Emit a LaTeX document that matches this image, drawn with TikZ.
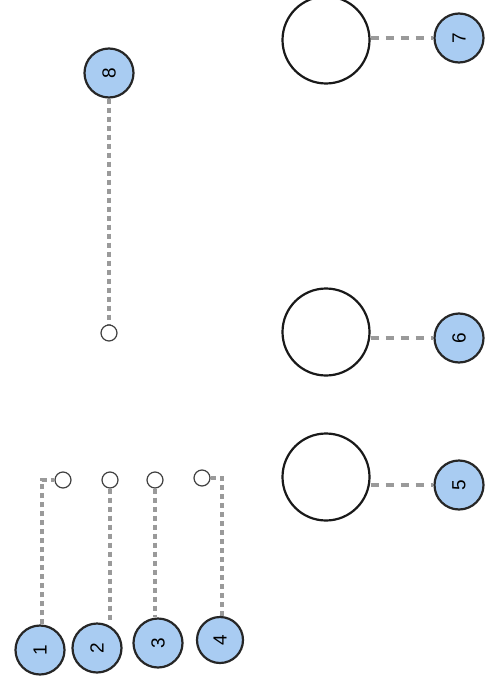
\documentclass[tikz,border=0pt]{standalone}
\usepackage{fontspec}
\setmainfont{Liberation Sans}
\usetikzlibrary{backgrounds}
\definecolor{badgefill}{HTML}{A9CCF2}
\definecolor{conn}{HTML}{9A9A9A}
\newcommand{\rt}[1]{\rotatebox{90}{#1}}
\begin{document}
\begin{tikzpicture}[x=1pt,y=-1pt,
  badge/.style={circle,draw=black!85,line width=2.2pt,fill=badgefill,minimum size=49pt,inner sep=0pt,font=\fontsize{19}{19}\selectfont},
  smallc/.style={circle,draw=black!75,line width=1.2pt,fill=white,minimum size=16pt,inner sep=0pt},
  bigc/.style={circle,draw=black!90,line width=2.2pt,fill=white,minimum size=87pt,inner sep=0pt},
  vconn/.style={draw=conn,line width=4pt,dash pattern=on 5pt off 4pt},
  hconn/.style={draw=conn,line width=4pt,dash pattern=on 8pt off 7pt}]
\useasboundingbox (0,0) rectangle (498,687);
% badges
\node[badge] (b1) at (40,650) {\rt{1}};
\node[badge] (b2) at (97,648) {\rt{2}};
\node[badge] (b3) at (158,643) {\rt{3}};
\node[badge,minimum size=46pt] (b4) at (220,640) {\rt{4}};
\node[badge] (b8) at (109,73) {\rt{8}};
\node[badge] (b7) at (459,38) {\rt{7}};
\node[badge] (b6) at (459,338) {\rt{6}};
\node[badge] (b5) at (459,485) {\rt{5}};
% small circles
\node[smallc] (s1) at (63,480) {};
\node[smallc] (s2) at (110,480) {};
\node[smallc] (s3) at (155,480) {};
\node[smallc] (s4) at (202,478) {};
\node[smallc] (s8) at (109,333) {};
% big circles
\node[bigc] (c7) at (326,40) {};
\node[bigc] (c6) at (326,332) {};
\node[bigc] (c5) at (326,477) {};
% connectors
\coordinate (k1) at (42,480);
\coordinate (k4) at (222,478);
\begin{pgfonlayer}{background}
\draw[vconn] (b1.north -| k1) -- (k1) -- (s1.west);
\draw[vconn] (s2.south) -- (s2.south |- b2.north);
\draw[vconn] (s3.south) -- (s3.south |- b3.north);
\draw[vconn] (b4.north -| k4) -- (k4) -- (s4.east);
\draw[vconn] (b8.south) -- (s8.north);
\draw[hconn] (c7.east |- b7.west) -- (b7.west);
\draw[hconn] (c6.east |- b6.west) -- (b6.west);
\draw[hconn] (c5.east |- b5.west) -- (b5.west);
\end{pgfonlayer}
\end{tikzpicture}
\end{document}
